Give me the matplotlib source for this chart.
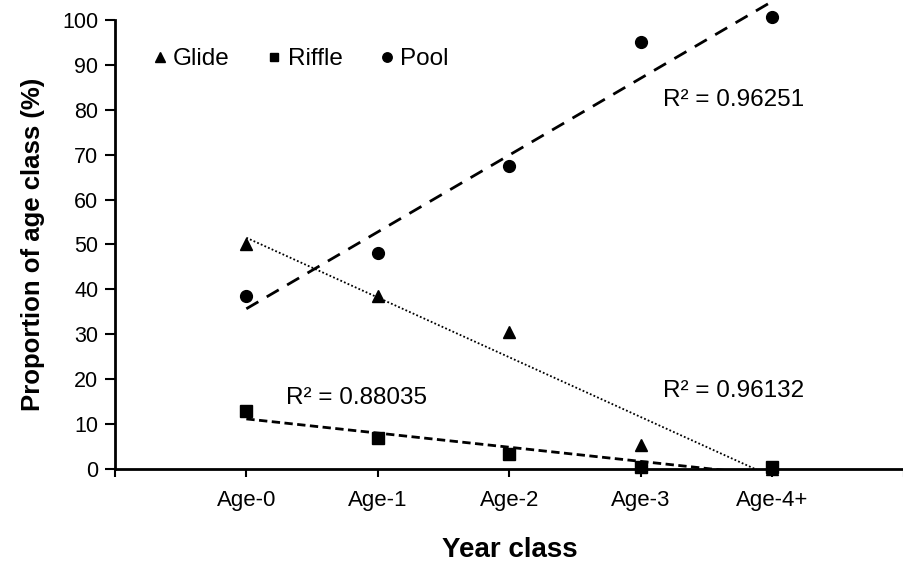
import numpy as np
import matplotlib
matplotlib.use("Agg")
import matplotlib.pyplot as plt

plt.rcParams['font.family'] = ['Liberation Sans', 'DejaVu Sans']

# Year classes and the proportion (%) found in each habitat
age_labels = ["Age-0", "Age-1", "Age-2", "Age-3", "Age-4+"]
age_pos = np.array([1, 2, 3, 4, 5])
glide = [50.0, 38.5, 30.5, 5.5, 0.0]
riffle = [13.0, 7.0, 3.5, 0.5, 0.5]
pool = [38.5, 48.0, 67.5, 95.0, 100.5]

r2_pool = "R² = 0.96251"
r2_riffle = "R² = 0.88035"
r2_glide = "R² = 0.96132"

fig = plt.figure(figsize=(9.04, 5.62), dpi=100)
ax = fig.add_axes([0.127, 0.165, 0.873, 0.8])

# points
ax.plot(age_pos, glide, '^', color='black', markersize=8.5, label='Glide', zorder=3, clip_on=False)
ax.plot(age_pos, riffle, 's', color='black', markersize=8, label='Riffle', zorder=3, clip_on=False)
ax.plot(age_pos, pool, 'o', color='black', markersize=8.5, label='Pool', zorder=3, clip_on=False)

# linear trend lines
xs = np.array([age_pos[0], age_pos[-1]])
k, b = np.polyfit(age_pos, pool, 1)
ax.plot(xs, k * xs + b, color='black', lw=2, dashes=(5, 3.5), clip_on=False)
k, b = np.polyfit(age_pos, riffle, 1)
ax.plot(xs, k * xs + b, color='black', lw=2, dashes=(3, 1.6))
k, b = np.polyfit(age_pos, glide, 1)
ax.plot(xs, k * xs + b, color='black', lw=1.3, linestyle=(0, (1, 1.2)))

ax.text(4.17, 82.2, r2_pool, fontsize=17.5, va='center', ha='left')
ax.text(1.3, 15.8, r2_riffle, fontsize=17.5, va='center', ha='left')
ax.text(4.17, 17.4, r2_glide, fontsize=17.5, va='center', ha='left')

ax.set_xlim(0, 6)
ax.set_ylim(0, 100)
ax.set_xticks(range(0, 7))
ax.set_xticklabels([""] + age_labels + [""], fontsize=16)
ax.set_yticks(range(0, 101, 10))
ax.tick_params(axis='y', labelsize=15.5, length=7, width=1.5, direction='out', pad=5)
ax.tick_params(axis='x', length=6, width=1.5, direction='out', pad=9)

for side in ['top', 'right']:
    ax.spines[side].set_visible(False)
for side in ['left', 'bottom']:
    ax.spines[side].set_linewidth(2)

ax.set_xlabel("Year class", fontsize=20, fontweight='bold', labelpad=19)
ax.set_ylabel("Proportion of age class (%)", fontsize=18.5, fontweight='bold', labelpad=12)

ax.legend(loc='upper left', bbox_to_anchor=(0.017, 0.985), ncol=3, frameon=False,
          fontsize=17.5, handletextpad=0.15, columnspacing=1.42, handlelength=0.8,
          markerscale=0.8)

fig.savefig("out.png", dpi=100)
